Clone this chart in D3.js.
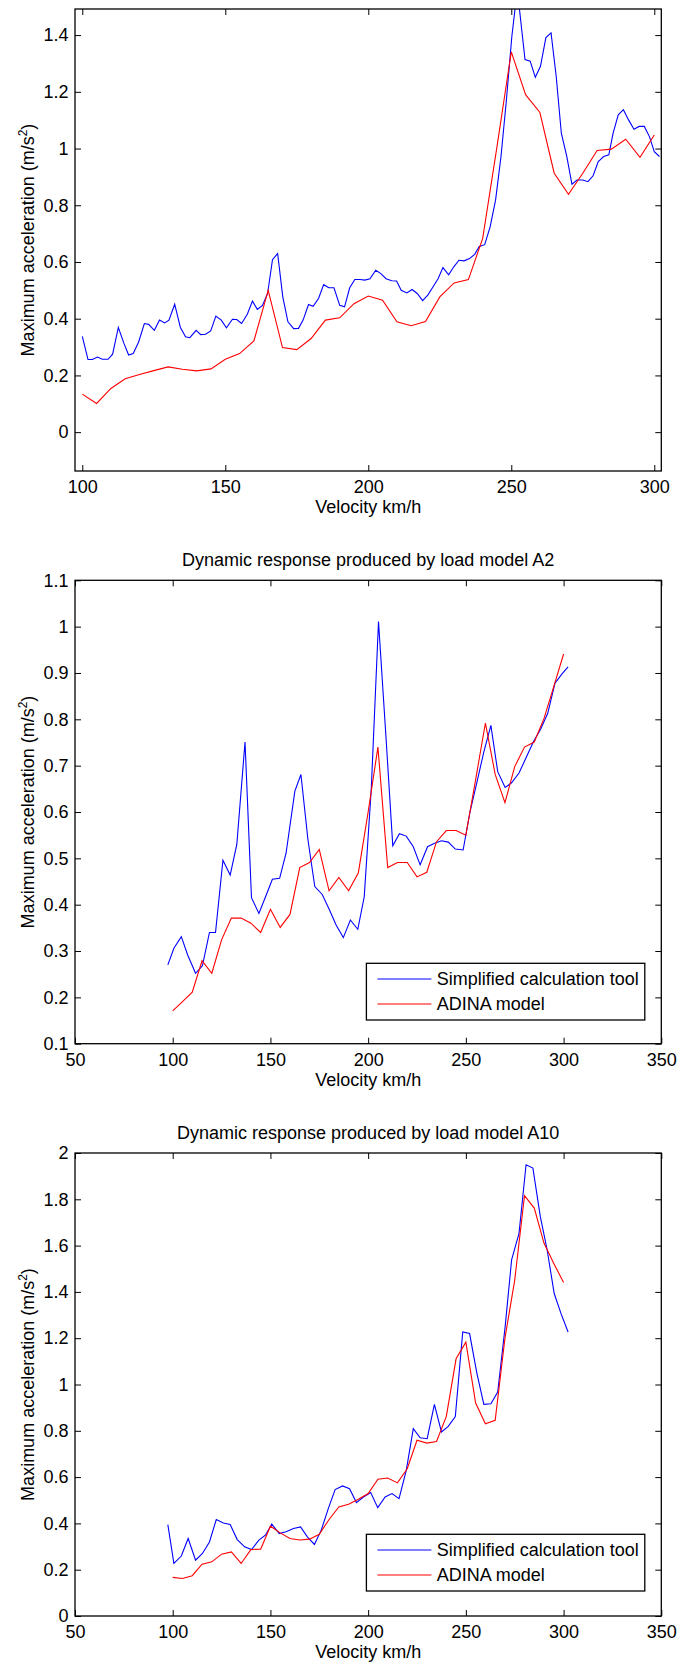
<!DOCTYPE html>
<html>
<head>
<meta charset="utf-8">
<script src="https://cdn.jsdelivr.net/npm/d3@7"></script>
<style>
	body { margin: 0; background: #fff; }
	svg text { font-family: "Liberation Sans", Arial, Helvetica, sans-serif; font-size: 18px; fill: #000; }
</style>
</head>
<body>
<svg id="svg_main" width="680" height="1664"></svg>
<script>
// panel 1 (no title)
var p1SimpleSpeed = [100, 102, 103.5, 105.3, 107, 109, 110.6, 112.6, 114.6, 116.2, 117.8, 119.7, 121.7, 123.2, 125.2, 127, 128.8, 130.3, 132.3, 134.3, 136.1, 137.6, 139.8, 141.4, 143.1, 144.9, 146.7, 148.6, 150.4, 152.5, 154, 155.7, 157.7, 159.5, 161.2, 163, 164.8, 166.5, 168.3, 170.1, 171.9, 173.9, 175.6, 177.2, 179.1, 180.7, 182.6, 184.4, 186.2, 188, 190, 191.7, 193.5, 195.3, 197.1, 198.8, 200.6, 202.6, 204.4, 206.2, 208.2, 209.9, 211.5, 213.5, 215.3, 217.1, 219, 220.8, 222.6, 224.4, 226.1, 228.1, 229.9, 231.7, 233.5, 235.4, 237.2, 238.8, 240.7, 242.6, 244.5, 246.4, 248.3, 250.2, 252.1, 254.8, 256.6, 258.4, 260.2, 262.1, 263.9, 265.7, 267.5, 269.4, 271.2, 273, 275, 276.8, 278.6, 280.4, 282.3, 284.1, 285.6, 287.4, 289.2, 291, 292.9, 294.7, 296.5, 298.3, 300, 301.8];
var p1SimpleAcc = [0.338, 0.256, 0.256, 0.265, 0.257, 0.257, 0.275, 0.369, 0.312, 0.272, 0.277, 0.318, 0.383, 0.380, 0.359, 0.395, 0.385, 0.395, 0.451, 0.369, 0.336, 0.333, 0.359, 0.344, 0.345, 0.357, 0.409, 0.395, 0.368, 0.398, 0.397, 0.383, 0.416, 0.462, 0.433, 0.447, 0.489, 0.608, 0.630, 0.477, 0.389, 0.365, 0.366, 0.395, 0.450, 0.444, 0.471, 0.520, 0.509, 0.509, 0.447, 0.442, 0.509, 0.538, 0.538, 0.536, 0.541, 0.571, 0.559, 0.541, 0.534, 0.533, 0.500, 0.491, 0.503, 0.489, 0.464, 0.483, 0.512, 0.541, 0.580, 0.555, 0.583, 0.606, 0.604, 0.612, 0.627, 0.655, 0.661, 0.724, 0.818, 0.972, 1.172, 1.396, 1.560, 1.314, 1.308, 1.251, 1.290, 1.391, 1.408, 1.255, 1.054, 0.972, 0.874, 0.889, 0.889, 0.883, 0.904, 0.954, 0.972, 0.978, 1.054, 1.119, 1.137, 1.101, 1.068, 1.078, 1.078, 1.042, 0.989, 0.972];
var p1AdinaSpeed = [100, 105, 110, 115, 120, 125, 130, 135, 140, 145, 150, 155, 160, 165, 170, 175, 180, 185, 190, 195, 200, 205, 210, 215, 220, 225, 230, 235, 240, 245, 250, 255, 260, 265, 270, 275, 280, 285, 290, 295, 300];
var p1AdinaAcc = [0.134, 0.101, 0.154, 0.188, 0.203, 0.217, 0.230, 0.222, 0.216, 0.223, 0.257, 0.277, 0.322, 0.500, 0.298, 0.291, 0.330, 0.395, 0.403, 0.453, 0.480, 0.465, 0.389, 0.375, 0.390, 0.477, 0.526, 0.538, 0.683, 1.007, 1.341, 1.190, 1.127, 0.913, 0.839, 0.913, 0.993, 0.998, 1.033, 0.969, 1.048];
var p1XTicks = [100, 150, 200, 250, 300];
var p1YTicks = [0, 0.2, 0.4, 0.6, 0.8, 1, 1.2, 1.4];

// panel 2, load model A2
var p2SimpleSpeed = [97.5, 100.6, 104.4, 107.7, 111.7, 115.2, 118.8, 121.9, 125.7, 129.4, 132.8, 137, 140.3, 144.1, 147.5, 151, 154.7, 158, 162.5, 165.6, 169.2, 172.7, 176.5, 180.3, 183.6, 187.3, 190.9, 194.7, 198, 201.6, 205.3, 209, 212.6, 216, 219.5, 223.1, 226.6, 230.4, 233.7, 237.5, 241, 244.6, 248.6, 252.1, 255.7, 259.2, 262.8, 266.3, 270.1, 273.4, 277.2, 280.8, 284.5, 288.3, 291.9, 295.6, 299.2, 302.3];
var p2SimpleAcc = [0.270, 0.306, 0.331, 0.291, 0.252, 0.268, 0.340, 0.340, 0.496, 0.464, 0.530, 0.751, 0.415, 0.381, 0.417, 0.455, 0.457, 0.511, 0.645, 0.681, 0.540, 0.439, 0.422, 0.388, 0.356, 0.329, 0.367, 0.347, 0.417, 0.650, 1.011, 0.770, 0.527, 0.553, 0.548, 0.525, 0.486, 0.525, 0.532, 0.538, 0.535, 0.520, 0.518, 0.600, 0.665, 0.730, 0.787, 0.687, 0.653, 0.663, 0.684, 0.717, 0.751, 0.779, 0.813, 0.878, 0.898, 0.913];
var p2AdinaSpeed = [100, 105, 110, 115, 120, 125, 130, 135, 140, 145, 150, 155, 160, 165, 170, 175, 180, 185, 190, 195, 200, 205, 210, 215, 220, 225, 230, 235, 240, 245, 250, 255, 260, 265, 270, 275, 280, 285, 290, 295, 300];
var p2AdinaAcc = [0.171, 0.191, 0.211, 0.279, 0.252, 0.324, 0.371, 0.371, 0.360, 0.340, 0.390, 0.351, 0.379, 0.480, 0.491, 0.519, 0.430, 0.459, 0.430, 0.469, 0.600, 0.740, 0.480, 0.491, 0.491, 0.460, 0.470, 0.536, 0.560, 0.560, 0.550, 0.670, 0.792, 0.681, 0.620, 0.698, 0.740, 0.751, 0.802, 0.871, 0.941];
var p2XTicks = [50, 100, 150, 200, 250, 300, 350];
var p2YTicks = [0.1, 0.2, 0.3, 0.4, 0.5, 0.6, 0.7, 0.8, 0.9, 1, 1.1];

// panel 3, load model A10
var p3SimpleSpeed = [97.5, 100.6, 104.4, 107.9, 111.7, 115.2, 118.8, 122.3, 125.9, 129.4, 133, 136.8, 140.3, 144.1, 147.4, 150.7, 154.5, 158, 161.8, 165.4, 168.9, 172.5, 176, 179.6, 183.1, 186.9, 190.5, 194, 197.6, 201.3, 204.9, 208.7, 212.2, 215.8, 219.5, 223.1, 226.6, 230.2, 233.9, 237.5, 241, 244.6, 248.4, 251.9, 255.7, 259.2, 262.8, 266.3, 270.1, 273.4, 277.2, 280.8, 284.3, 288.1, 291.6, 295.2, 298.7, 302.3];
var p3SimpleAcc = [0.395, 0.227, 0.259, 0.335, 0.241, 0.270, 0.320, 0.417, 0.402, 0.395, 0.330, 0.299, 0.287, 0.328, 0.349, 0.397, 0.356, 0.364, 0.378, 0.385, 0.342, 0.309, 0.371, 0.464, 0.546, 0.562, 0.550, 0.490, 0.514, 0.533, 0.468, 0.514, 0.529, 0.507, 0.629, 0.809, 0.770, 0.766, 0.914, 0.795, 0.819, 0.862, 1.227, 1.220, 1.046, 0.914, 0.917, 0.967, 1.250, 1.538, 1.653, 1.949, 1.935, 1.725, 1.581, 1.393, 1.306, 1.227];
var p3AdinaSpeed = [100, 105, 110, 115, 120, 125, 130, 135, 140, 145, 150, 155, 160, 165, 170, 175, 180, 185, 190, 195, 200, 205, 210, 215, 220, 225, 230, 235, 240, 245, 250, 255, 260, 265, 270, 275, 280, 285, 290, 295, 300];
var p3AdinaAcc = [0.167, 0.162, 0.174, 0.224, 0.234, 0.267, 0.277, 0.227, 0.287, 0.289, 0.388, 0.359, 0.335, 0.328, 0.332, 0.353, 0.417, 0.471, 0.483, 0.504, 0.529, 0.591, 0.596, 0.575, 0.636, 0.759, 0.747, 0.754, 0.862, 1.111, 1.183, 0.920, 0.830, 0.845, 1.200, 1.451, 1.816, 1.762, 1.610, 1.523, 1.441];
var p3XTicks = [50, 100, 150, 200, 250, 300, 350];
var p3YTicks = [0, 0.2, 0.4, 0.6, 0.8, 1, 1.2, 1.4, 1.6, 1.8, 2];

var seriesNames = ["Simplified calculation tool", "ADINA model"];
var seriesColors = ["#0000ff", "#ff0000"];

var svg = d3.select("#svg_main");

function zip(xs, ys) {
	return xs.map(function(x, i) { return { v: x, a: ys[i] }; });
}

function fmt(d) {
	return String(+d.toFixed(2));
}

function renderPanel(opt) {
	var box = opt.box;
	var g = svg.append("g").attr("id", opt.id);

	var x = d3.scaleLinear().domain(opt.xDomain).range([box.left, box.right]);
	var y = d3.scaleLinear().domain(opt.yDomain).range([box.bottom, box.top]);

	g.append("clipPath").attr("id", opt.id + "_clip")
		.append("rect")
		.attr("x", box.left).attr("y", box.top)
		.attr("width", box.right - box.left).attr("height", box.bottom - box.top);

	// ticks, all inside like matlab
	var bottom = g.append("g").attr("transform", "translate(0," + box.bottom + ")")
		.call(d3.axisBottom(x).tickValues(opt.xTicks).tickSize(-6).tickPadding(9.5).tickFormat(fmt));
	var top = g.append("g").attr("transform", "translate(0," + box.top + ")")
		.call(d3.axisTop(x).tickValues(opt.xTicks).tickSize(-6).tickFormat(""));
	var left = g.append("g").attr("transform", "translate(" + box.left + ",0)")
		.call(d3.axisLeft(y).tickValues(opt.yTicks).tickSize(-6).tickPadding(6.5).tickFormat(fmt));
	var right = g.append("g").attr("transform", "translate(" + box.right + ",0)")
		.call(d3.axisRight(y).tickValues(opt.yTicks).tickSize(-6).tickFormat(""));
	[bottom, top, left, right].forEach(function(a) {
		a.select(".domain").remove();
		a.selectAll("line").attr("stroke", "#000").attr("stroke-width", 1);
		a.selectAll("text").attr("font-size", null).attr("font-family", null);
		a.attr("font-size", null).attr("font-family", null);
	});

	// lines
	var line = d3.line()
		.x(function(d) { return x(d.v); })
		.y(function(d) { return y(d.a); });
	var lines = g.append("g").attr("clip-path", "url(#" + opt.id + "_clip)");
	opt.series.forEach(function(s, i) {
		lines.append("path")
			.attr("d", line(s))
			.attr("fill", "none")
			.attr("stroke", seriesColors[i])
			.attr("stroke-width", 1.1);
	});

	// frame
	g.append("rect")
		.attr("x", box.left).attr("y", box.top)
		.attr("width", box.right - box.left).attr("height", box.bottom - box.top)
		.attr("fill", "none").attr("stroke", "#000").attr("stroke-width", 1.3);

	// labels
	g.append("text")
		.attr("x", (box.left + box.right) / 2)
		.attr("y", box.bottom + 42.3)
		.attr("text-anchor", "middle")
		.text("Velocity km/h");

	var yl = g.append("text")
		.attr("transform", "translate(33.5," + ((box.top + box.bottom) / 2) + ") rotate(-90)")
		.attr("text-anchor", "middle");
	yl.append("tspan").text("Maximum acceleration (m/s");
	yl.append("tspan").attr("font-size", "12px").attr("dy", "-7").text("2");
	yl.append("tspan").attr("dy", "7").text(")");

	if (opt.title) {
		g.append("text")
			.attr("x", (box.left + box.right) / 2)
			.attr("y", box.top - 14.3)
			.attr("text-anchor", "middle")
			.text(opt.title);
	}

	if (opt.legend) {
		var lg = g.append("g").attr("transform", "translate(" + opt.legend.x + "," + opt.legend.y + ")");
		lg.append("rect")
			.attr("width", 278.4).attr("height", 56.7)
			.attr("fill", "#fff").attr("stroke", "#000").attr("stroke-width", 1.3);
		seriesNames.forEach(function(name, i) {
			var cy = 15.7 + i * 25;
			lg.append("line")
				.attr("x1", 11).attr("x2", 65)
				.attr("y1", cy).attr("y2", cy)
				.attr("stroke", seriesColors[i]).attr("stroke-width", 1.1);
			lg.append("text")
				.attr("x", 70.3).attr("y", cy + 6.5)
				.text(name);
		});
	}
}

renderPanel({
	id: "panel1",
	box: { left: 75, right: 661.3, top: 9, bottom: 471 },
	xDomain: [97.45, 302.45],
	yDomain: [-0.137, 1.492],
	xTicks: p1XTicks,
	yTicks: p1YTicks,
	series: [zip(p1SimpleSpeed, p1SimpleAcc), zip(p1AdinaSpeed, p1AdinaAcc)]
});

renderPanel({
	id: "panel2",
	box: { left: 75, right: 661.3, top: 580.3, bottom: 1043.7 },
	xDomain: [50, 350],
	yDomain: [0.1, 1.1],
	xTicks: p2XTicks,
	yTicks: p2YTicks,
	title: "Dynamic response produced by load model A2",
	legend: { x: 366.4, y: 963.3 },
	series: [zip(p2SimpleSpeed, p2SimpleAcc), zip(p2AdinaSpeed, p2AdinaAcc)]
});

renderPanel({
	id: "panel3",
	box: { left: 75, right: 661.3, top: 1153, bottom: 1616 },
	xDomain: [50, 350],
	yDomain: [0, 2],
	xTicks: p3XTicks,
	yTicks: p3YTicks,
	title: "Dynamic response produced by load model A10",
	legend: { x: 366.4, y: 1534.3 },
	series: [zip(p3SimpleSpeed, p3SimpleAcc), zip(p3AdinaSpeed, p3AdinaAcc)]
});
</script>
</body>
</html>
